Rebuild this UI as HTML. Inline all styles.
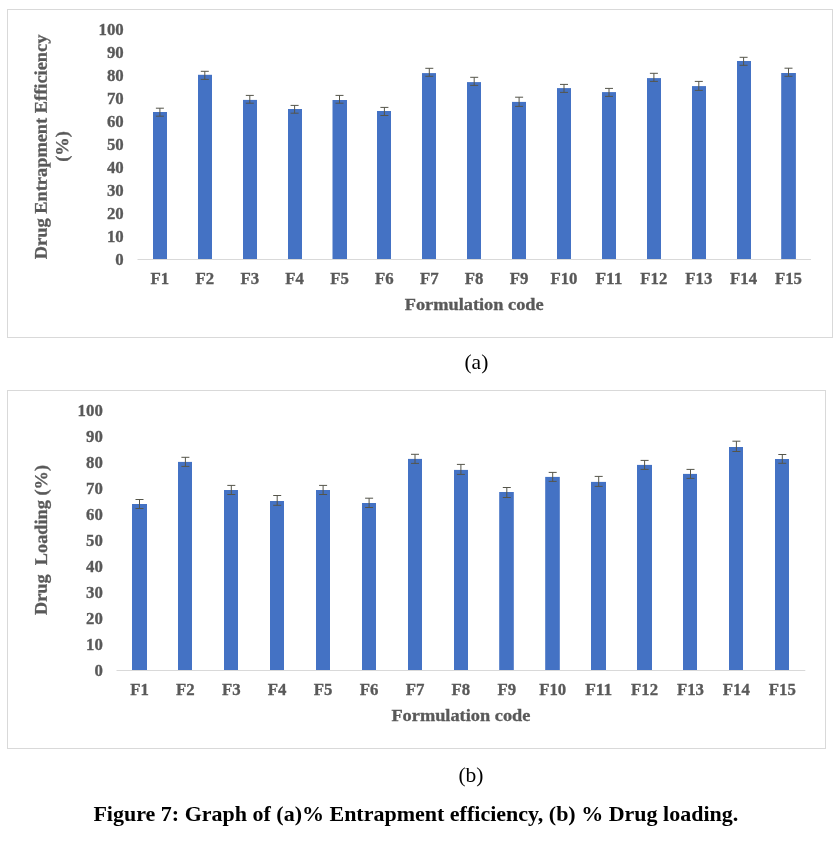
<!DOCTYPE html>
<html lang="en"><head><meta charset="utf-8"><title>Figure 7</title>
<style>html,body{margin:0;padding:0;background:#fff}svg{display:block}text{font-family:'Liberation Serif','Times New Roman',serif}.t{font-size:15.9px;font-weight:bold;fill:#595959;stroke:#595959;stroke-width:.3px}.h{font-size:16.2px;font-weight:bold;fill:#595959;stroke:#595959;stroke-width:.3px}.v{font-size:17.9px;font-weight:bold;fill:#595959;stroke:#595959;stroke-width:.3px}.c{font-size:21.5px;fill:#000}.cap{font-size:22px;font-weight:bold;fill:#000}</style></head><body>
<svg width="837" height="841" viewBox="0 0 837 841">
<rect width="837" height="841" fill="#fff"/>
<rect x="7.5" y="9.5" width="825.0" height="328.0" fill="#fff" stroke="#D9D9D9" stroke-width="1"/>
<text class="t" x="123.7" y="264.9" text-anchor="end" textLength="8.39" lengthAdjust="spacingAndGlyphs">0</text>
<text class="t" x="123.7" y="241.9" text-anchor="end" textLength="16.77" lengthAdjust="spacingAndGlyphs">10</text>
<text class="t" x="123.7" y="218.9" text-anchor="end" textLength="16.77" lengthAdjust="spacingAndGlyphs">20</text>
<text class="t" x="123.7" y="195.8" text-anchor="end" textLength="16.77" lengthAdjust="spacingAndGlyphs">30</text>
<text class="t" x="123.7" y="172.8" text-anchor="end" textLength="16.77" lengthAdjust="spacingAndGlyphs">40</text>
<text class="t" x="123.7" y="149.8" text-anchor="end" textLength="16.77" lengthAdjust="spacingAndGlyphs">50</text>
<text class="t" x="123.7" y="126.8" text-anchor="end" textLength="16.77" lengthAdjust="spacingAndGlyphs">60</text>
<text class="t" x="123.7" y="103.8" text-anchor="end" textLength="16.77" lengthAdjust="spacingAndGlyphs">70</text>
<text class="t" x="123.7" y="80.7" text-anchor="end" textLength="16.77" lengthAdjust="spacingAndGlyphs">80</text>
<text class="t" x="123.7" y="57.7" text-anchor="end" textLength="16.77" lengthAdjust="spacingAndGlyphs">90</text>
<text class="t" x="123.7" y="34.7" text-anchor="end" textLength="25.16" lengthAdjust="spacingAndGlyphs">100</text>
<rect x="153" y="112" width="14" height="147.50" fill="#4472C4"/>
<rect x="198" y="74.8" width="14" height="184.70" fill="#4472C4"/>
<rect x="243" y="99.9" width="14" height="159.60" fill="#4472C4"/>
<rect x="288" y="109" width="14" height="150.50" fill="#4472C4"/>
<rect x="332.5" y="100" width="14.5" height="159.50" fill="#4472C4"/>
<rect x="377" y="111" width="14" height="148.50" fill="#4472C4"/>
<rect x="422" y="73.1" width="14" height="186.40" fill="#4472C4"/>
<rect x="467" y="82.1" width="14" height="177.40" fill="#4472C4"/>
<rect x="512" y="101.9" width="14" height="157.60" fill="#4472C4"/>
<rect x="557" y="88.1" width="14" height="171.40" fill="#4472C4"/>
<rect x="602" y="92.1" width="14" height="167.40" fill="#4472C4"/>
<rect x="647" y="78.1" width="14" height="181.40" fill="#4472C4"/>
<rect x="692" y="86.1" width="14" height="173.40" fill="#4472C4"/>
<rect x="737" y="61" width="14" height="198.50" fill="#4472C4"/>
<rect x="781.2" y="73" width="14.699999999999932" height="186.50" fill="#4472C4"/>
<line x1="137.5" y1="259.5" x2="811" y2="259.5" stroke="#D9D9D9" stroke-width="1"/>
<path d="M155.9 108.2H163.9M155.9 116.2H163.9M159.9 108.2V116.2" stroke="#55554a" stroke-width="1" fill="none"/>
<path d="M200.8 71.3H208.8M200.8 79.4H208.8M204.8 71.3V79.4" stroke="#55554a" stroke-width="1" fill="none"/>
<path d="M245.8 95.4H253.8M245.8 103.2H253.8M249.8 95.4V103.2" stroke="#55554a" stroke-width="1" fill="none"/>
<path d="M290.6 105.4H298.6M290.6 113.2H298.6M294.6 105.4V113.2" stroke="#55554a" stroke-width="1" fill="none"/>
<path d="M335.5 95.4H343.5M335.5 103.2H343.5M339.5 95.4V103.2" stroke="#55554a" stroke-width="1" fill="none"/>
<path d="M380.4 107.4H388.4M380.4 115.5H388.4M384.4 107.4V115.5" stroke="#55554a" stroke-width="1" fill="none"/>
<path d="M425.3 68.3H433.3M425.3 76.3H433.3M429.3 68.3V76.3" stroke="#55554a" stroke-width="1" fill="none"/>
<path d="M470.2 77.3H478.2M470.2 85.4H478.2M474.2 77.3V85.4" stroke="#55554a" stroke-width="1" fill="none"/>
<path d="M515.1 97.2H523.1M515.1 106.4H523.1M519.1 97.2V106.4" stroke="#55554a" stroke-width="1" fill="none"/>
<path d="M560.0 84.4H568.0M560.0 92.4H568.0M564.0 84.4V92.4" stroke="#55554a" stroke-width="1" fill="none"/>
<path d="M605.0 88.4H613.0M605.0 96.4H613.0M609.0 88.4V96.4" stroke="#55554a" stroke-width="1" fill="none"/>
<path d="M649.9 73.3H657.9M649.9 81.4H657.9M653.9 73.3V81.4" stroke="#55554a" stroke-width="1" fill="none"/>
<path d="M694.8 81.4H702.8M694.8 90.4H702.8M698.8 81.4V90.4" stroke="#55554a" stroke-width="1" fill="none"/>
<path d="M739.6 57.3H747.6M739.6 65.3H747.6M743.6 57.3V65.3" stroke="#55554a" stroke-width="1" fill="none"/>
<path d="M784.5 68.2H792.5M784.5 76.3H792.5M788.5 68.2V76.3" stroke="#55554a" stroke-width="1" fill="none"/>
<text class="t" x="159.9" y="283.8" text-anchor="middle" textLength="18.64" lengthAdjust="spacingAndGlyphs">F1</text>
<text class="t" x="204.8" y="283.8" text-anchor="middle" textLength="18.64" lengthAdjust="spacingAndGlyphs">F2</text>
<text class="t" x="249.8" y="283.8" text-anchor="middle" textLength="18.64" lengthAdjust="spacingAndGlyphs">F3</text>
<text class="t" x="294.6" y="283.8" text-anchor="middle" textLength="18.64" lengthAdjust="spacingAndGlyphs">F4</text>
<text class="t" x="339.5" y="283.8" text-anchor="middle" textLength="18.64" lengthAdjust="spacingAndGlyphs">F5</text>
<text class="t" x="384.4" y="283.8" text-anchor="middle" textLength="18.64" lengthAdjust="spacingAndGlyphs">F6</text>
<text class="t" x="429.3" y="283.8" text-anchor="middle" textLength="18.64" lengthAdjust="spacingAndGlyphs">F7</text>
<text class="t" x="474.2" y="283.8" text-anchor="middle" textLength="18.64" lengthAdjust="spacingAndGlyphs">F8</text>
<text class="t" x="519.1" y="283.8" text-anchor="middle" textLength="18.64" lengthAdjust="spacingAndGlyphs">F9</text>
<text class="t" x="564.0" y="283.8" text-anchor="middle" textLength="27.02" lengthAdjust="spacingAndGlyphs">F10</text>
<text class="t" x="609.0" y="283.8" text-anchor="middle" textLength="27.02" lengthAdjust="spacingAndGlyphs">F11</text>
<text class="t" x="653.9" y="283.8" text-anchor="middle" textLength="27.02" lengthAdjust="spacingAndGlyphs">F12</text>
<text class="t" x="698.8" y="283.8" text-anchor="middle" textLength="27.02" lengthAdjust="spacingAndGlyphs">F13</text>
<text class="t" x="743.6" y="283.8" text-anchor="middle" textLength="27.02" lengthAdjust="spacingAndGlyphs">F14</text>
<text class="t" x="788.5" y="283.8" text-anchor="middle" textLength="27.02" lengthAdjust="spacingAndGlyphs">F15</text>
<text class="h" x="474.2" y="310" text-anchor="middle" textLength="139" lengthAdjust="spacingAndGlyphs">Formulation code</text>
<text class="v" transform="translate(46.8 146.9) rotate(-89.97)" text-anchor="middle" textLength="224.5" lengthAdjust="spacingAndGlyphs" style="white-space:pre">Drug Entrapment Efficiency</text>
<text class="v" transform="translate(68.1 146.5) rotate(-89.97)" text-anchor="middle" textLength="30.6" lengthAdjust="spacingAndGlyphs" style="white-space:pre">(%)</text>
<text class="c" x="476.4" y="369.4" text-anchor="middle">(a)</text>
<rect x="7.5" y="390.5" width="818.0" height="358.0" fill="#fff" stroke="#D9D9D9" stroke-width="1"/>
<text class="t" x="102.8" y="675.9" text-anchor="end" textLength="8.39" lengthAdjust="spacingAndGlyphs">0</text>
<text class="t" x="102.8" y="649.9" text-anchor="end" textLength="16.77" lengthAdjust="spacingAndGlyphs">10</text>
<text class="t" x="102.8" y="623.9" text-anchor="end" textLength="16.77" lengthAdjust="spacingAndGlyphs">20</text>
<text class="t" x="102.8" y="597.9" text-anchor="end" textLength="16.77" lengthAdjust="spacingAndGlyphs">30</text>
<text class="t" x="102.8" y="571.9" text-anchor="end" textLength="16.77" lengthAdjust="spacingAndGlyphs">40</text>
<text class="t" x="102.8" y="545.9" text-anchor="end" textLength="16.77" lengthAdjust="spacingAndGlyphs">50</text>
<text class="t" x="102.8" y="519.9" text-anchor="end" textLength="16.77" lengthAdjust="spacingAndGlyphs">60</text>
<text class="t" x="102.8" y="493.9" text-anchor="end" textLength="16.77" lengthAdjust="spacingAndGlyphs">70</text>
<text class="t" x="102.8" y="467.9" text-anchor="end" textLength="16.77" lengthAdjust="spacingAndGlyphs">80</text>
<text class="t" x="102.8" y="441.9" text-anchor="end" textLength="16.77" lengthAdjust="spacingAndGlyphs">90</text>
<text class="t" x="102.8" y="415.9" text-anchor="end" textLength="25.16" lengthAdjust="spacingAndGlyphs">100</text>
<rect x="132" y="504" width="15" height="166.50" fill="#4472C4"/>
<rect x="178" y="461.9" width="14" height="208.60" fill="#4472C4"/>
<rect x="224" y="490" width="14" height="180.50" fill="#4472C4"/>
<rect x="270" y="501" width="14" height="169.50" fill="#4472C4"/>
<rect x="316" y="490" width="14" height="180.50" fill="#4472C4"/>
<rect x="362" y="503" width="14" height="167.50" fill="#4472C4"/>
<rect x="408" y="458.9" width="14" height="211.60" fill="#4472C4"/>
<rect x="454" y="469.9" width="14" height="200.60" fill="#4472C4"/>
<rect x="499.2" y="492" width="14.599999999999966" height="178.50" fill="#4472C4"/>
<rect x="545.2" y="476.9" width="14.599999999999909" height="193.60" fill="#4472C4"/>
<rect x="591" y="481.9" width="15" height="188.60" fill="#4472C4"/>
<rect x="637" y="464.9" width="15" height="205.60" fill="#4472C4"/>
<rect x="683" y="473.9" width="14" height="196.60" fill="#4472C4"/>
<rect x="729" y="447" width="14" height="223.50" fill="#4472C4"/>
<rect x="775" y="459" width="14" height="211.50" fill="#4472C4"/>
<line x1="116.5" y1="670.5" x2="805.3" y2="670.5" stroke="#D9D9D9" stroke-width="1"/>
<path d="M135.5 499.5H143.5M135.5 508.5H143.5M139.5 499.5V508.5" stroke="#55554a" stroke-width="1" fill="none"/>
<path d="M181.4 457.3H189.4M181.4 466.4H189.4M185.4 457.3V466.4" stroke="#55554a" stroke-width="1" fill="none"/>
<path d="M227.3 485.4H235.3M227.3 494.5H235.3M231.3 485.4V494.5" stroke="#55554a" stroke-width="1" fill="none"/>
<path d="M273.2 495.5H281.2M273.2 505.3H281.2M277.2 495.5V505.3" stroke="#55554a" stroke-width="1" fill="none"/>
<path d="M319.1 485.4H327.1M319.1 494.5H327.1M323.1 485.4V494.5" stroke="#55554a" stroke-width="1" fill="none"/>
<path d="M365.1 498.2H373.1M365.1 507.5H373.1M369.1 498.2V507.5" stroke="#55554a" stroke-width="1" fill="none"/>
<path d="M411.0 454.3H419.0M411.0 463.4H419.0M415.0 454.3V463.4" stroke="#55554a" stroke-width="1" fill="none"/>
<path d="M456.9 464.4H464.9M456.9 474.4H464.9M460.9 464.4V474.4" stroke="#55554a" stroke-width="1" fill="none"/>
<path d="M502.8 487.5H510.8M502.8 497.5H510.8M506.8 487.5V497.5" stroke="#55554a" stroke-width="1" fill="none"/>
<path d="M548.7 472.4H556.7M548.7 481.4H556.7M552.7 472.4V481.4" stroke="#55554a" stroke-width="1" fill="none"/>
<path d="M594.7 476.4H602.7M594.7 486.4H602.7M598.7 476.4V486.4" stroke="#55554a" stroke-width="1" fill="none"/>
<path d="M640.6 460.4H648.6M640.6 469.4H648.6M644.6 460.4V469.4" stroke="#55554a" stroke-width="1" fill="none"/>
<path d="M686.5 469.4H694.5M686.5 478.4H694.5M690.5 469.4V478.4" stroke="#55554a" stroke-width="1" fill="none"/>
<path d="M732.4 441.2H740.4M732.4 451.5H740.4M736.4 441.2V451.5" stroke="#55554a" stroke-width="1" fill="none"/>
<path d="M778.3 454.5H786.3M778.3 463.3H786.3M782.3 454.5V463.3" stroke="#55554a" stroke-width="1" fill="none"/>
<text class="t" x="139.5" y="695.2" text-anchor="middle" textLength="18.64" lengthAdjust="spacingAndGlyphs">F1</text>
<text class="t" x="185.4" y="695.2" text-anchor="middle" textLength="18.64" lengthAdjust="spacingAndGlyphs">F2</text>
<text class="t" x="231.3" y="695.2" text-anchor="middle" textLength="18.64" lengthAdjust="spacingAndGlyphs">F3</text>
<text class="t" x="277.2" y="695.2" text-anchor="middle" textLength="18.64" lengthAdjust="spacingAndGlyphs">F4</text>
<text class="t" x="323.1" y="695.2" text-anchor="middle" textLength="18.64" lengthAdjust="spacingAndGlyphs">F5</text>
<text class="t" x="369.1" y="695.2" text-anchor="middle" textLength="18.64" lengthAdjust="spacingAndGlyphs">F6</text>
<text class="t" x="415.0" y="695.2" text-anchor="middle" textLength="18.64" lengthAdjust="spacingAndGlyphs">F7</text>
<text class="t" x="460.9" y="695.2" text-anchor="middle" textLength="18.64" lengthAdjust="spacingAndGlyphs">F8</text>
<text class="t" x="506.8" y="695.2" text-anchor="middle" textLength="18.64" lengthAdjust="spacingAndGlyphs">F9</text>
<text class="t" x="552.7" y="695.2" text-anchor="middle" textLength="27.02" lengthAdjust="spacingAndGlyphs">F10</text>
<text class="t" x="598.7" y="695.2" text-anchor="middle" textLength="27.02" lengthAdjust="spacingAndGlyphs">F11</text>
<text class="t" x="644.6" y="695.2" text-anchor="middle" textLength="27.02" lengthAdjust="spacingAndGlyphs">F12</text>
<text class="t" x="690.5" y="695.2" text-anchor="middle" textLength="27.02" lengthAdjust="spacingAndGlyphs">F13</text>
<text class="t" x="736.4" y="695.2" text-anchor="middle" textLength="27.02" lengthAdjust="spacingAndGlyphs">F14</text>
<text class="t" x="782.3" y="695.2" text-anchor="middle" textLength="27.02" lengthAdjust="spacingAndGlyphs">F15</text>
<text class="h" x="460.9" y="720.8" text-anchor="middle" textLength="139" lengthAdjust="spacingAndGlyphs">Formulation code</text>
<text class="v" transform="translate(46.9 540) rotate(-89.97)" text-anchor="middle" textLength="150" lengthAdjust="spacingAndGlyphs" style="white-space:pre">Drug  Loading (%)</text>
<text class="c" x="471" y="781.5" text-anchor="middle">(b)</text>
<text class="cap" x="93.4" y="820.8">Figure 7: Graph of (a)% Entrapment efficiency, (b) % Drug loading.</text>
</svg></body></html>
